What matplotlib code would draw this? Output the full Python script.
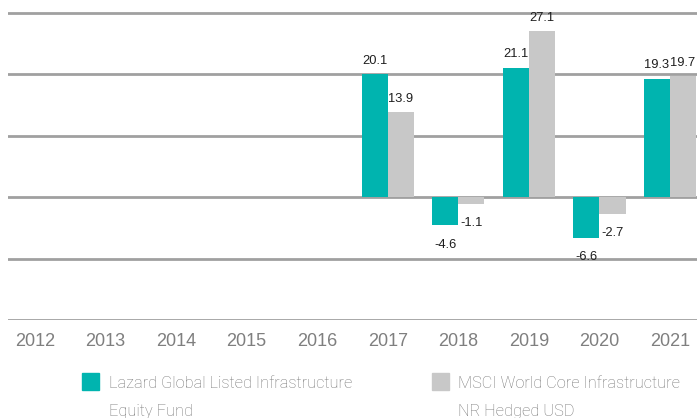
import matplotlib
matplotlib.use("Agg")
import matplotlib.pyplot as plt
from matplotlib.patches import Rectangle
import numpy as np

# -----------------------------
# Datos
# -----------------------------
years = ["2012", "2013", "2014", "2015", "2016", "2017", "2018", "2019", "2020", "2021"]
fund = [None, None, None, None, None, 20.1, -4.6, 21.1, -6.6, 19.3]
index = [None, None, None, None, None, 13.9, -1.1, 27.1, -2.7, 19.7]
fund_name = ["Lazard Global Listed Infrastructure", "Equity Fund"]
index_name = ["MSCI World Core Infrastructure", "NR Hedged USD"]

teal = "#00b4af"
grey = "#c8c8c8"
grid_col = "#a0a0a0"
text_col = "#7f7f7f"

plt.rcParams['font.family'] = ['Liberation Sans', 'DejaVu Sans']

fig = plt.figure(figsize=(6.97, 4.18), dpi=100)
ax = fig.add_axes([8 / 697, 1 - 320 / 418, 1 - 8 / 697, 320 / 418])

x = np.arange(len(years))
w = 0.37


# -----------------------------
# Barras con etiquetas
# -----------------------------
def draw_series(values, offset, color):
    xs = [xi + offset for xi, v in zip(x, values) if v is not None]
    vs = [v for v in values if v is not None]
    ax.bar(xs, vs, width=w, align='edge', color=color, zorder=3)
    for xi, v in zip(xs, vs):
        dy = 9.5 if v >= 0 else -14
        ax.annotate(f"{v:.1f}", (xi + w / 2, v), xytext=(0, dy), textcoords='offset points',
                    ha='center', va='center', fontsize=9.3, color="#1e1e1e", zorder=4)


draw_series(fund, -w, teal)
draw_series(index, 0, grey)

ax.set_xlim(-0.383, 9.383)
ax.set_ylim(-20, 32.1)
ax.set_yticks([-20, -10, 0, 10, 20, 30])
ax.yaxis.grid(True, color=grid_col, linewidth=2.0, zorder=1)
ax.tick_params(axis='y', left=False, labelleft=False)
ax.set_xticks(x)
ax.set_xticklabels(years)
ax.tick_params(axis='x', length=0, pad=9, labelsize=13, labelcolor=text_col)
for s in ax.spines.values():
    s.set_visible(False)

# -----------------------------
# Leyenda manual
# -----------------------------
H = 418.0
W = 697.0
legend_font = ['Roboto', 'Liberation Sans', 'DejaVu Sans']
for (sx, tx), color, name in [((82, 109), teal, fund_name), ((432, 458), grey, index_name)]:
    fig.patches.append(Rectangle((sx / W, 1 - 390 / H), 17 / W, 17 / H,
                                 transform=fig.transFigure, color=color))
    fig.text(tx / W, 1 - 388 / H, name[0], fontsize=11.8, color="#777777",
             family=legend_font, weight='light', va='baseline', ha='left')
    fig.text(tx / W, 1 - 416 / H, name[1], fontsize=11.8, color="#777777",
             family=legend_font, weight='light', va='baseline', ha='left')

fig.savefig("out.png", dpi=100)
